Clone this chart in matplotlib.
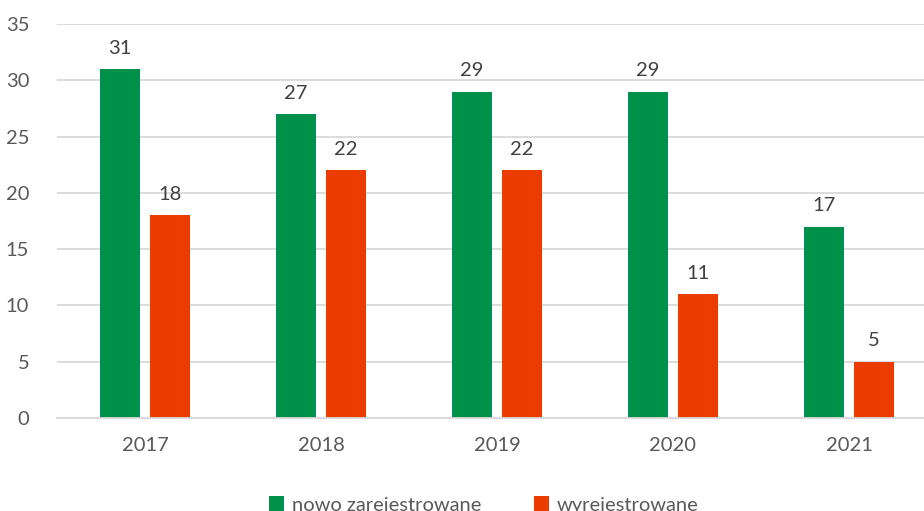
import numpy as np
import matplotlib.pyplot as plt

years = ['2017', '2018', '2019', '2020', '2021']
nowo = [31, 27, 29, 29, 17]
wyrej = [18, 22, 22, 11, 5]
labels = ['nowo zarejestrowane', 'wyrejestrowane']

green = '#00904A'
red = '#EB3D00'
txt = '#595959'

plt.rcParams['font.family'] = ['Lato', 'DejaVu Sans']

fig = plt.figure(figsize=(9.24, 5.11), dpi=100)
ax = fig.add_axes([57 / 924, 93 / 511, 880 / 924, 394 / 511])

x = np.arange(len(years))
w = 0.222
b1 = ax.bar(x - 0.142, nowo, w, color=green, label=labels[0])
b2 = ax.bar(x + 0.142, wyrej, w, color=red, label=labels[1])

for bars in (b1, b2):
    for r in bars:
        ax.annotate(str(int(r.get_height())), (r.get_x() + r.get_width() / 2, r.get_height()),
                    xytext=(0, 9), textcoords='offset points', ha='center', va='bottom',
                    fontsize=14.5, color='#404040')

ax.set_xlim(-0.5, 4.5)
ax.set_ylim(0, 35)
ax.set_yticks(range(0, 36, 5))
ax.set_xticks(x)
ax.set_xticklabels(years)
ax.yaxis.grid(True, color='#D9D9D9', linewidth=1.3)
ax.set_axisbelow(True)
for s in ['top', 'right', 'left']:
    ax.spines[s].set_visible(False)
ax.spines['bottom'].set_color('#D9D9D9')
ax.spines['bottom'].set_linewidth(1.3)
ax.tick_params(length=0, labelsize=14.5, colors=txt)
ax.tick_params(axis='x', pad=14)
ax.tick_params(axis='y', pad=20)

fig.legend(handles=[b1, b2], labels=labels, loc='center', bbox_to_anchor=(484 / 924, 6 / 511),
           ncol=2, frameon=False, fontsize=14.5, labelcolor=txt, handlelength=0.75, handleheight=0.75,
           columnspacing=2.6, handletextpad=0.4)

fig.savefig('out.png', dpi=100)
